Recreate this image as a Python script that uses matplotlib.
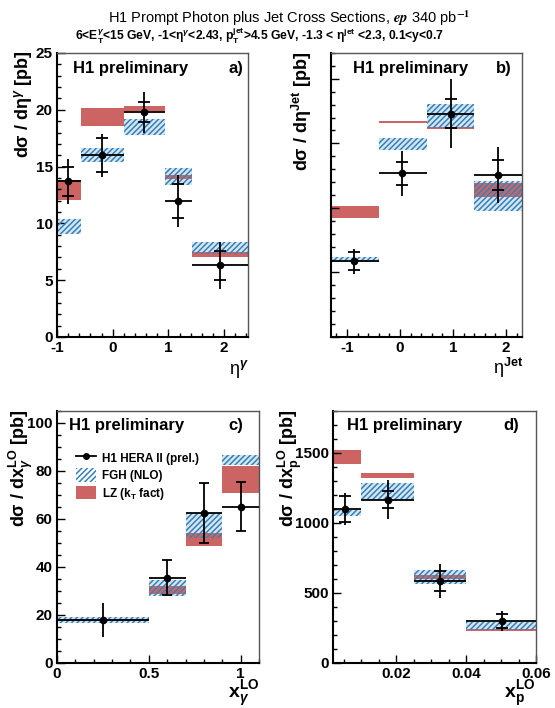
import matplotlib
matplotlib.use("Agg")
import matplotlib.pyplot as plt
from matplotlib.lines import Line2D
from matplotlib.patches import Patch
from matplotlib.ticker import MultipleLocator

# panel a) d sigma / d eta_gamma
eta_g_edges = [-1.0, -0.57, 0.2, 0.94, 1.42, 2.43]
eta_g_x = [-0.80, -0.20, 0.56, 1.18, 1.93]
eta_g_val = [13.7, 16.0, 19.8, 12.0, 6.3]
eta_g_stat = [1.3, 1.5, 0.9, 1.5, 1.27]
eta_g_tot = [1.95, 1.9, 1.8, 2.3, 2.05]
eta_g_fgh = [(9.1, 10.35), (15.4, 16.6), (17.8, 19.2), (13.4, 14.9), (7.35, 8.4)]
eta_g_lz = [(12.06, 13.8), (18.6, 20.2), (19.9, 20.35), (13.9, 14.3), (7.06, 7.5)]

# panel b) d sigma / d eta_jet
eta_j_edges = [-1.3, -0.4, 0.5, 1.4, 2.3]
eta_j_x = [-0.86, 0.03, 0.96, 1.85]
eta_j_val = [5.88, 12.68, 17.3, 12.55]
eta_j_stat = [0.7, 0.87, 1.12, 1.15]
eta_j_tot = [0.97, 1.73, 2.67, 2.2]
eta_j_fgh = [(5.8, 6.2), (14.5, 15.4), (16.16, 18.04), (9.74, 12.1)]
eta_j_lz = [(9.2, 10.13), (16.55, 16.75), (16.1, 16.3), (10.88, 11.9)]

# panel c) d sigma / d x_gamma
xg_edges = [0.0, 0.5, 0.7, 0.9, 1.1]
xg_x = [0.25, 0.6, 0.8, 1.0]
xg_val = [18.0, 35.5, 62.4, 65.2]
xg_err = [7.0, 7.3, 12.4, 10.3]
xg_fgh = [(16.6, 19.1), (28.0, 34.7), (52.0, 62.5), (82.5, 86.8)]
xg_lz = [(17.5, 18.4), (28.6, 32.0), (48.6, 54.2), (70.7, 82.2)]

# panel d) d sigma / d x_p
xp_edges = [0.002, 0.01, 0.025, 0.04, 0.06]
xp_x = [0.0054, 0.0176, 0.0325, 0.0502]
xp_val = [1100, 1167, 586, 300]
xp_stat = [95, 63, 72, 50]
xp_tot = [117, 138, 119, 71]
xp_fgh = [(1050, 1095), (1162, 1288), (567, 662), (238, 293)]
xp_lz = [(1419, 1519), (1324, 1360), (602, 631), (232, 240)]

RED = "#cd6464"
BLUE = "#3580b8"
HATCH_BG = "#d4e6f2"

plt.rcParams["font.family"] = ["Liberation Sans", "DejaVu Sans"]
plt.rcParams["font.weight"] = "bold"
plt.rcParams["axes.unicode_minus"] = False
plt.rcParams["mathtext.fontset"] = "custom"
plt.rcParams["mathtext.rm"] = "Liberation Sans:bold"
plt.rcParams["mathtext.it"] = "Liberation Sans:bold:italic"
plt.rcParams["mathtext.bf"] = "Liberation Sans:bold"
plt.rcParams["hatch.linewidth"] = 1.1

W, H = 555, 708
fig = plt.figure(figsize=(W / 100, H / 100), dpi=100)


def px(x, y):
    return x / W, 1 - y / H


def make_axes(l, t, r, b):
    return fig.add_axes([l / W, 1 - b / H, (r - l) / W, (b - t) / H])


def bands(ax, edges, fgh, lz):
    for i in range(len(fgh)):
        x0, w = edges[i], edges[i + 1] - edges[i]
        # pale background of the hatched band, below the red band
        ax.bar(x0, fgh[i][1] - fgh[i][0], bottom=fgh[i][0], width=w, align="edge",
               color=HATCH_BG, linewidth=0, zorder=0.5)
        ax.bar(x0, lz[i][1] - lz[i][0], bottom=lz[i][0], width=w, align="edge",
               color=RED, linewidth=0, zorder=1)
        ax.bar(x0, fgh[i][1] - fgh[i][0], bottom=fgh[i][0], width=w, align="edge",
               facecolor="none", edgecolor=BLUE, hatch="//////", linewidth=0, zorder=2)


def points(ax, edges, x, val, tot, stat=None, caps=None):
    xl = [x[i] - edges[i] for i in range(len(x))]
    xr = [edges[i + 1] - x[i] for i in range(len(x))]
    ax.errorbar(x, val, xerr=[xl, xr], yerr=tot, fmt="o", color="black", ms=4.5,
                elinewidth=1.3, capsize=0, zorder=3)
    if stat is not None:
        ax.errorbar(x, val, yerr=stat, fmt="none", ecolor="black", elinewidth=0,
                    capsize=4.5, capthick=1.3, zorder=3)
    if caps is not None:
        for i in range(len(x)):
            if caps[i]:
                ax.errorbar(x[i], val[i], yerr=tot[i], fmt="none", ecolor="black",
                            elinewidth=0, capsize=3.5, capthick=1.3, zorder=3)


def style(ax, xlim, ylim, xmaj, xmin, ymaj, ymin, ylabels=True):
    ax.set_xlim(*xlim)
    ax.set_ylim(*ylim)
    ax.xaxis.set_major_locator(MultipleLocator(xmaj))
    ax.xaxis.set_minor_locator(MultipleLocator(xmin))
    ax.yaxis.set_major_locator(MultipleLocator(ymaj))
    ax.yaxis.set_minor_locator(MultipleLocator(ymin))
    ax.tick_params(which="both", direction="in", top=False, right=False,
                   labelsize=11, width=1.0)
    ax.tick_params(which="major", length=6, pad=3)
    ax.tick_params(which="minor", length=3)
    for s in ["left", "bottom"]:
        ax.spines[s].set_linewidth(1.5)
    for s in ["top", "right"]:
        ax.spines[s].set_linewidth(1.0)
        ax.spines[s].set_color("#555555")
    if not ylabels:
        ax.set_yticklabels([])


# a)
ax_a = make_axes(57, 53, 248, 337)
bands(ax_a, eta_g_edges, eta_g_fgh, eta_g_lz)
points(ax_a, eta_g_edges, eta_g_x, eta_g_val, eta_g_tot, eta_g_stat)
style(ax_a, (-1.0, 2.43), (0, 25), 1, 0.2, 5, 1)
ax_a.text(0.084, 0.947, "H1 preliminary", transform=ax_a.transAxes, fontsize=12, va="center")
ax_a.text(0.974, 0.947, "a)", transform=ax_a.transAxes, fontsize=12, va="center", ha="right")

# b)
ax_b = make_axes(331, 53, 522, 337)
bands(ax_b, eta_j_edges, eta_j_fgh, eta_j_lz)
points(ax_b, eta_j_edges, eta_j_x, eta_j_val, eta_j_tot, eta_j_stat)
style(ax_b, (-1.3, 2.3), (0, 22), 1, 0.2, 5, 1, ylabels=False)
ax_b.text(0.115, 0.947, "H1 preliminary", transform=ax_b.transAxes, fontsize=12, va="center")
ax_b.text(0.948, 0.947, "b)", transform=ax_b.transAxes, fontsize=12, va="center", ha="right")

# c)
ax_c = make_axes(57, 411, 259, 663)
bands(ax_c, xg_edges, xg_fgh, xg_lz)
points(ax_c, xg_edges, xg_x, xg_val, xg_err, caps=[False, True, True, True])
style(ax_c, (0, 1.1), (0, 105), 0.5, 0.1, 20, 5)
ax_c.set_xticks([0, 0.5, 1.0])
ax_c.set_xticklabels(["0", "0.5", "1"])
ax_c.text(0.06, 0.944, "H1 preliminary", transform=ax_c.transAxes, fontsize=12, va="center")
ax_c.text(0.92, 0.944, "c)", transform=ax_c.transAxes, fontsize=12, va="center", ha="right")
handles = [
    Line2D([], [], color="black", marker="o", ms=4, lw=1.3),
    Patch(facecolor="none", edgecolor=BLUE, hatch="//////", linewidth=0),
    Patch(facecolor=RED, linewidth=0),
]
ax_c.legend(handles, ["H1 HERA II (prel.)", "FGH (NLO)", "LZ (k$_{\\mathrm{T}}$ fact)"],
            loc="upper left", bbox_to_anchor=(0.07, 0.86), frameon=False,
            prop={"size": 8.5, "weight": "bold"}, handlelength=1.7,
            handleheight=1.4, handletextpad=0.5, labelspacing=0.3, borderaxespad=0)

# d)
ax_d = make_axes(333, 411, 536, 663)
bands(ax_d, xp_edges, xp_fgh, xp_lz)
points(ax_d, xp_edges, xp_x, xp_val, xp_tot, xp_stat)
style(ax_d, (0.002, 0.06), (0, 1800), 0.02, 0.005, 500, 100)
ax_d.set_xticks([0.02, 0.04, 0.06])
ax_d.set_xticklabels(["0.02", "0.04", "0.06"])
ax_d.text(0.069, 0.944, "H1 preliminary", transform=ax_d.transAxes, fontsize=12, va="center")
ax_d.text(0.916, 0.944, "d)", transform=ax_d.transAxes, fontsize=12, va="center", ha="right")

# axis titles
fig.text(*px(23, 50), "d\u03c3 / d\u03b7$^{\\gamma}$ [pb]", rotation=90,
         ha="center", va="top", fontsize=13)
fig.text(*px(302, 52), "d\u03c3 / d\u03b7$^{\\mathrm{Jet}}$ [pb]", rotation=90,
         ha="center", va="top", fontsize=13)
fig.text(*px(21, 410), "d\u03c3 / dx$^{\\mathrm{LO}}_{\\gamma}$ [pb]", rotation=90,
         ha="center", va="top", fontsize=13)
fig.text(*px(290, 410), "d\u03c3 / dx$^{\\mathrm{LO}}_{\\mathrm{p}}$ [pb]", rotation=90,
         ha="center", va="top", fontsize=13)

fig.text(*px(249, 369), "\u03b7$^{\\gamma}$", ha="right", va="center", fontsize=13,
         fontweight="normal")
fig.text(*px(523, 368), "\u03b7$^{\\mathrm{Jet}}$", ha="right", va="center", fontsize=13,
         fontweight="normal")
fig.text(*px(259, 694), "x$^{\\mathrm{LO}}_{\\gamma}$", ha="right", va="center", fontsize=14)
fig.text(*px(535, 694), "x$^{\\mathrm{LO}}_{\\mathrm{p}}$", ha="right", va="center", fontsize=14)

# header
fig.text(*px(289, 18), "H1 Prompt Photon plus Jet Cross Sections, $\\mathit{ep}$ 340 pb$^{-1}$",
         ha="center", va="center", fontsize=10.5, fontweight="normal", math_fontfamily="stix")
fig.text(*px(260, 36),
         "6<E$_{\\mathrm{T}}^{\\gamma}$<15 GeV, -1<\u03b7$^{\\gamma}$<2.43, "
         "p$_{\\mathrm{T}}^{\\mathrm{jet}}$>4.5 GeV, -1.3 < \u03b7$^{\\mathrm{jet}}$ <2.3, 0.1<y<0.7",
         ha="center", va="center", fontsize=8.7)

fig.savefig("out.png", dpi=100)
